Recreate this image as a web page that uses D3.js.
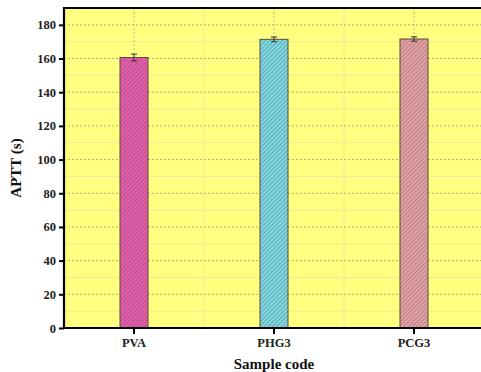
<!DOCTYPE html>
<html>
<head>
<meta charset="utf-8">
<script src="https://cdn.jsdelivr.net/npm/d3@7"></script>
<style>
  html, body { margin: 0; padding: 0; background: #fff; }
  svg { display: block; font-family: "Liberation Serif", "Times New Roman", serif; font-weight: bold; }
</style>
</head>
<body>
<div id="chart"></div>
<script>
(() => {
  const WIDTH = 481
  const HEIGHT = 372
  const MARGIN = { left: 64, top: 8, right: -3, bottom: 44 }

  // data
  const samples = ['PVA', 'PHG3', 'PCG3']
  const aptt = [160.6, 171.4, 171.6]
  const apttErr = [2.0, 1.4, 1.3]
  const yTicks = [0, 20, 40, 60, 80, 100, 120, 140, 160, 180]

  const fills = ['#e162ac', '#86d8df', '#e0a2a6']
  const hatches = ['#a8336f', '#2f8597', '#a26163']

  const data = samples.map((s, i) => ({ sample: s, value: aptt[i], err: apttErr[i] }))

  const svg = d3.select('#chart')
    .append('svg')
    .attr('width', WIDTH)
    .attr('height', HEIGHT)

  const x0 = MARGIN.left
  const x1 = WIDTH - MARGIN.right
  const yBottom = HEIGHT - MARGIN.bottom

  const xScale = d3.scaleBand()
    .domain(samples)
    .range([x0, x1])
    .paddingInner(0.8)
    .paddingOuter(0.4)

  const yScale = d3.scaleLinear()
    .domain([0, 190])
    .range([yBottom, MARGIN.top])

  // hatch patterns
  const defs = svg.append('defs')
  samples.forEach((s, i) => {
    const p = defs.append('pattern')
      .attr('id', `hatch-${i}`)
      .attr('patternUnits', 'userSpaceOnUse')
      .attr('width', 3)
      .attr('height', 3)
      .attr('patternTransform', 'rotate(45)')
    p.append('rect').attr('width', 3).attr('height', 3).attr('fill', fills[i])
    p.append('line')
      .attr('x1', 0).attr('y1', 0).attr('x2', 0).attr('y2', 3)
      .attr('stroke', hatches[i])
      .attr('stroke-width', 1.1)
  })

  // background
  svg.append('rect')
    .attr('x', x0)
    .attr('y', MARGIN.top)
    .attr('width', x1 - x0)
    .attr('height', yBottom - MARGIN.top)
    .attr('fill', '#ffff80')

  // minor grid
  const minorY = d3.range(10, 190, 20)
  svg.append('g')
    .selectAll('line')
    .data(minorY)
    .join('line')
    .attr('x1', x0).attr('x2', x1)
    .attr('y1', d => yScale(d)).attr('y2', d => yScale(d))
    .attr('stroke', '#ecec9a')
    .attr('stroke-width', 1)

  const step = xScale.step()
  svg.append('g')
    .selectAll('line')
    .data(samples.slice(1))
    .join('line')
    .attr('x1', d => xScale(d) + xScale.bandwidth() / 2 - step / 2)
    .attr('x2', d => xScale(d) + xScale.bandwidth() / 2 - step / 2)
    .attr('y1', MARGIN.top).attr('y2', yBottom)
    .attr('stroke', '#ecec9a')
    .attr('stroke-width', 1)

  // major grid
  svg.append('g')
    .selectAll('line')
    .data(yTicks.slice(1))
    .join('line')
    .attr('x1', x0).attr('x2', x1)
    .attr('y1', d => yScale(d)).attr('y2', d => yScale(d))
    .attr('stroke', '#b0b070')
    .attr('stroke-width', 1)
    .attr('stroke-dasharray', '2,2')

  svg.append('g')
    .selectAll('line')
    .data(samples)
    .join('line')
    .attr('x1', d => xScale(d) + xScale.bandwidth() / 2)
    .attr('x2', d => xScale(d) + xScale.bandwidth() / 2)
    .attr('y1', MARGIN.top).attr('y2', yBottom)
    .attr('stroke', '#b8b880')
    .attr('stroke-width', 1)
    .attr('stroke-dasharray', '2,2')

  // bars
  svg.append('g')
    .selectAll('rect')
    .data(data)
    .join('rect')
    .attr('x', d => xScale(d.sample))
    .attr('width', xScale.bandwidth())
    .attr('y', d => yScale(d.value))
    .attr('height', d => yBottom - yScale(d.value))
    .attr('fill', (d, i) => `url(#hatch-${i})`)
    .attr('stroke', '#5a4a3a')
    .attr('stroke-width', 1)

  // error bars
  const eb = svg.append('g')
    .attr('stroke', '#333')
    .attr('stroke-width', 1)
  eb.selectAll('.stem')
    .data(data)
    .join('line')
    .attr('x1', d => xScale(d.sample) + xScale.bandwidth() / 2)
    .attr('x2', d => xScale(d.sample) + xScale.bandwidth() / 2)
    .attr('y1', d => yScale(d.value + d.err))
    .attr('y2', d => yScale(d.value - d.err))
  eb.selectAll('.cap')
    .data(data.flatMap(d => [d.value + d.err, d.value - d.err].map(v => ({ sample: d.sample, v }))))
    .join('line')
    .attr('x1', d => xScale(d.sample) + xScale.bandwidth() / 2 - 3)
    .attr('x2', d => xScale(d.sample) + xScale.bandwidth() / 2 + 3)
    .attr('y1', d => yScale(d.v))
    .attr('y2', d => yScale(d.v))

  // axes
  const yAxis = d3.axisLeft(yScale)
    .tickValues(yTicks)
    .tickSize(5)
    .tickPadding(3)

  const yG = svg.append('g')
    .attr('transform', `translate(${x0}, 0)`)
    .call(yAxis)
  yG.select('.domain').remove()
  yG.selectAll('.tick line').attr('stroke', '#000').attr('stroke-width', 2)
  yG.selectAll('.tick text')
    .attr('font-family', '"Liberation Serif", serif')
    .attr('font-weight', 'bold')
    .attr('font-size', 12.5)
    .attr('fill', '#222')

  const xAxis = d3.axisBottom(xScale)
    .tickSize(6)
    .tickPadding(4)

  const xG = svg.append('g')
    .attr('transform', `translate(0, ${yBottom})`)
    .call(xAxis)
  xG.select('.domain').remove()
  xG.selectAll('.tick line').attr('stroke', '#000').attr('stroke-width', 2)
  xG.selectAll('.tick text')
    .attr('font-family', '"Liberation Serif", serif')
    .attr('font-weight', 'bold')
    .attr('font-size', 12.5)
    .attr('fill', '#222')

  // frame
  svg.append('path')
    .attr('d', `M${x1},${MARGIN.top}H${x0}V${yBottom}H${x1}`)
    .attr('fill', 'none')
    .attr('stroke', '#000')
    .attr('stroke-width', 2.2)

  // titles
  svg.append('text')
    .attr('transform', `translate(21, ${(MARGIN.top + yBottom) / 2}) rotate(-90)`)
    .attr('text-anchor', 'middle')
    .attr('font-size', 15)
    .attr('fill', '#111')
    .text('APTT (s)')

  svg.append('text')
    .attr('x', (x0 + x1) / 2)
    .attr('y', 369)
    .attr('text-anchor', 'middle')
    .attr('font-size', 15)
    .attr('fill', '#111')
    .text('Sample code')
})()
</script>
</body>
</html>
